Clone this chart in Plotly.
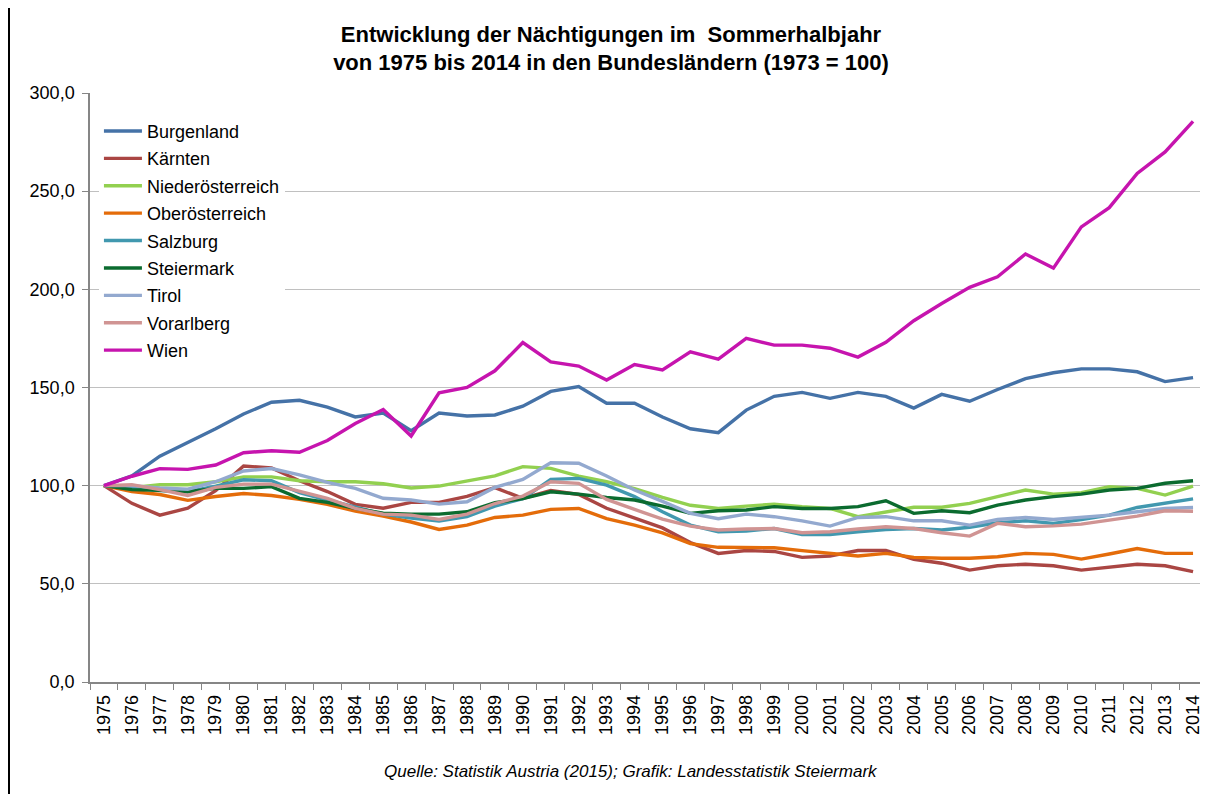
import plotly.graph_objects as go

years = [str(y) for y in range(1975, 2015)]

burgenland = [100, 105, 115, 122, 129, 136.5, 142.5, 143.5, 140, 135,
              137, 128, 137, 135.5, 136, 140.5, 148, 150.5, 142, 142,
              135, 129, 127, 138.5, 145.5, 147.5, 144.5, 147.5, 145.5, 139.5,
              146.5, 143, 149, 154.5, 157.5, 159.5, 159.5, 158, 153, 155]
kaernten = [100, 91, 85, 88.5, 97.5, 110, 109, 102.5, 97, 90.5,
            88.5, 91.5, 91.5, 94.5, 99, 93.5, 97.5, 95.5, 88.5, 83.5,
            78.5, 71, 65.5, 67, 66.5, 63.5, 64.2, 67, 67, 62.5,
            60.5, 57, 59.2, 60, 59.2, 57, 58.4, 60, 59.2, 56.2]
niederoesterreich = [100, 99, 100.5, 100.5, 102, 104.5, 104.5, 102.5, 102, 102,
                     101, 98.8, 99.8, 102.5, 105, 109.7, 108.8, 104.9, 102, 98.5,
                     94, 90, 88.4, 89.6, 90.6, 89.3, 88.4, 84.2, 86.7, 89,
                     89, 91, 94.4, 97.8, 95.7, 96.4, 99.5, 98.6, 95.2, 99.8]
oberoesterreich = [100, 97, 95.5, 92.5, 94.5, 96, 95, 93, 90.5, 87,
                   84.5, 81.5, 77.7, 79.9, 83.8, 85, 87.9, 88.4, 83.2, 79.9,
                   76, 70.5, 68.6, 68.4, 68.4, 66.9, 65.5, 64.2, 65.5, 63.5,
                   63, 63, 63.8, 65.5, 65, 62.6, 65.2, 68, 65.5, 65.5]
salzburg = [100, 99, 97.5, 97, 99.8, 103, 102.5, 96.5, 92.7, 89.3,
            85.5, 83.5, 82, 84.2, 89.6, 93.4, 103.2, 103.7, 100.3, 94.4,
            86.7, 79.9, 76.5, 76.9, 78.2, 75.1, 75.1, 76.5, 77.7, 78.2,
            77.4, 78.8, 81.1, 82.1, 80.8, 82.7, 85, 88.9, 91.3, 93.3]
steiermark = [100, 98, 97.6, 96.9, 98.6, 98.6, 99.5, 93.5, 91.5, 88.4,
              86, 85.5, 85.5, 86.7, 91.3, 93.4, 96.9, 95.7, 94, 92.7,
              89.6, 85.9, 87.2, 87.6, 89.3, 88.4, 88.4, 89.3, 92.3, 85.9,
              87.2, 86.2, 90.1, 92.7, 94.4, 95.7, 97.8, 98.6, 101.2, 102.5]
tirol = [100, 100, 98.8, 98.2, 102, 107.5, 108.7, 105.5, 101.7, 98.6,
         93.6, 92.7, 90.6, 91.8, 99.1, 103.2, 111.7, 111.4, 104.9, 97.8,
         92, 85.9, 83.2, 85.5, 84.2, 82.1, 79.4, 83.8, 84.2, 82.1,
         82.1, 79.9, 82.8, 83.8, 82.8, 83.8, 85, 86.7, 88.4, 88.9]
vorarlberg = [100, 100.5, 98, 95, 99.1, 100.8, 100.8, 97, 93.5, 88.4,
              85.5, 85, 82.8, 85.5, 90.9, 94.7, 102, 101.2, 93, 87.9,
              83, 79.4, 77.4, 77.9, 78.2, 76, 76.5, 77.9, 79.1, 78.2,
              76, 74.3, 80.8, 79.1, 79.5, 80.4, 82.5, 84.5, 87.2, 87]
wien = [100, 104.8, 108.7, 108.3, 110.5, 116.8, 117.8, 117, 123, 131.7,
        138.8, 125.3, 147.3, 150, 158.5, 172.9, 163, 160.9, 153.8, 161.7,
        158.9, 168.2, 164.5, 175, 171.6, 171.6, 170, 165.5, 173, 184,
        192.8, 201, 206.4, 218, 210.8, 231.8, 241.6, 259, 270, 285.5]

series_names = ["Burgenland", "Kärnten", "Niederösterreich", "Oberösterreich",
                "Salzburg", "Steiermark", "Tirol", "Vorarlberg", "Wien"]
series_values = [burgenland, kaernten, niederoesterreich, oberoesterreich,
                 salzburg, steiermark, tirol, vorarlberg, wien]
series_colors = ["#4572A7", "#AA4643", "#92D050", "#E46C0A", "#4198AF",
                 "#0B6B2F", "#93A9CF", "#D09493", "#C614AE"]

y_ticks = [0, 50, 100, 150, 200, 250, 300]

FONT = "Liberation Sans, Arial, sans-serif"

# page is rendered with an 8px body margin; figure is sized to fit 1208x794
W, H = 1200, 786
PL, PT = 82, 85          # plot area left/top inside figure
PW, PH = 1117, 589       # plot area size


def px_x(page_x):
    return (page_x - 8 - PL) / PW


def px_y(page_y):
    return (PT + PH - (page_y - 8)) / PH


fig = go.Figure()
for name, vals, col in zip(series_names, series_values, series_colors):
    fig.add_trace(go.Scatter(
        x=years, y=vals, name=name, mode="lines",
        line=dict(color=col, width=3.4),
        legendgroup=name,
    ))

fig.update_layout(
    width=W, height=H,
    margin=dict(l=PL, r=W - PL - PW, t=PT, b=H - PT - PH, autoexpand=False),
    paper_bgcolor="white", plot_bgcolor="white",
    separators=",.",
    font=dict(family=FONT, color="#000000", size=17),
    title=dict(
        text="<b>Entwicklung der Nächtigungen im  Sommerhalbjahr<br>von 1975 bis 2014 in den Bundesländern (1973 = 100)</b>",
        x=(611 - 8) / W, xanchor="center", yref="container",
        y=0.957, yanchor="top",
        font=dict(family=FONT, size=22, color="#000000"),
    ),
    showlegend=True,
    legend=dict(
        x=0.008, y=0.9665, xanchor="left", yanchor="top",
        bgcolor="rgba(255,255,255,1)", borderwidth=0,
        font=dict(family=FONT, size=18, color="#000000"),
        tracegroupgap=1, itemwidth=38,
    ),
    xaxis=dict(
        type="category", range=[-0.5, 39.5],
        showline=True, linecolor="#868686", linewidth=1.5,
        ticks="outside", ticklen=6, tickcolor="#868686", tickson="boundaries",
        tickangle=-90, ticklabelstandoff=4,
        tickfont=dict(family=FONT, size=18, color="#000000"),
        showgrid=False, zeroline=False,
    ),
    yaxis=dict(
        range=[0, 300], tickvals=y_ticks, tickformat=".1f",
        showline=True, linecolor="#868686", linewidth=1.5,
        ticks="outside", ticklen=6, tickcolor="#868686",
        ticklabelstandoff=4,
        showgrid=True, gridcolor="#C0C0C0", gridwidth=1.2,
        zeroline=False,
        tickfont=dict(family=FONT, size=18, color="#000000"),
    ),
)

fig.add_annotation(
    text="<i>Quelle: Statistik Austria (2015); Grafik: Landesstatistik Steiermark</i>",
    xref="paper", yref="paper", x=px_x(631), y=px_y(772),
    xanchor="center", yanchor="middle", showarrow=False,
    font=dict(family=FONT, size=17, color="#000000"),
)

fig.add_shape(type="line", xref="paper", yref="paper",
              x0=px_x(9), x1=px_x(9),
              y0=px_y(0), y1=px_y(794),
              line=dict(color="#000000", width=2))

fig.write_html("out.html")
